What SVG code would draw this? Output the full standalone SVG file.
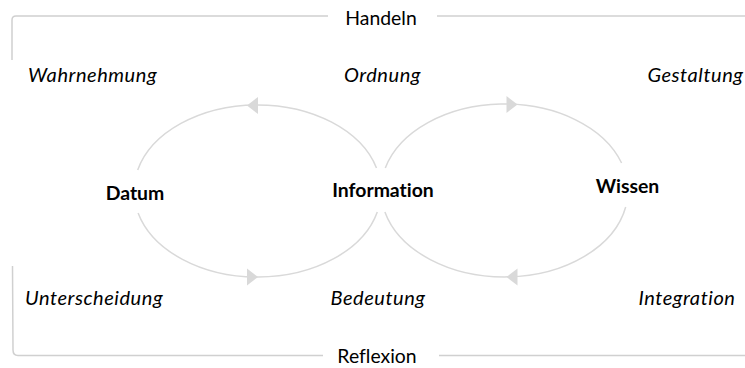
<svg xmlns="http://www.w3.org/2000/svg" width="745" height="368" viewBox="0 0 745 368">
<style>
  text { font-family: Lato, "Open Sans", "Liberation Sans", sans-serif; fill: #000; font-size: 19.4px; font-variant-ligatures: none; font-feature-settings: "liga" 0, "clig" 0; }
  .node { font-weight: bold; text-anchor: middle; }
  .lbl { font-style: italic; font-size: 20px; letter-spacing: 0.55px; }
  .mid { text-anchor: middle; }
  .arc { fill: none; stroke: #d9d9d9; stroke-width: 1.5; }
  .bracket { fill: none; stroke: #d0d0d0; stroke-width: 1.5; }
  .arrow { fill: #d9d9d9; stroke: none; }
</style>
<rect width="745" height="368" fill="#ffffff"/>

<g id="bracket-handeln">
  <path class="bracket" d="M328,16 L16,16 Q12,16 12,20 L12,60"/>
  <path class="bracket" d="M437,16 L745,16"/>
  <text class="mid" x="381" y="24.5">Handeln</text>
</g>
<g id="bracket-reflexion">
  <path class="bracket" d="M323,355.5 L18,355.5 Q13,355.5 13,350 L12.5,266"/>
  <path class="bracket" d="M439,355.5 L745,355.5"/>
  <text class="mid" x="377" y="362.5">Reflexion</text>
</g>

<g id="connectors">
  <path class="arc" d="M376.5,168 A123.5,86 0 0 0 137.7,170"/>
  <path class="arc" d="M138.1,213 A123.5,86 0 0 0 377.3,212"/>
  <path class="arc" d="M385.3,168 A123.5,86.5 0 0 1 621.6,163"/>
  <path class="arc" d="M625.7,207 A123.5,86.5 0 0 1 384.9,212"/>
  <polygon class="arrow" points="247,105.5 258,97 258,114"/>
  <polygon class="arrow" points="258,277 247,268.5 247,285.5"/>
  <polygon class="arrow" points="517.5,104.5 506.5,96 506.5,113"/>
  <polygon class="arrow" points="506.5,277 517.5,268.5 517.5,285.5"/>
</g>

<g id="node-datum"><text class="node" x="135" y="200">Datum</text></g>
<g id="node-information"><text class="node" x="383" y="197">Information</text></g>
<g id="node-wissen"><text class="node" x="627.5" y="193">Wissen</text></g>

<g id="label-wahrnehmung"><text class="lbl" x="28" y="82">Wahrnehmung</text></g>
<g id="label-ordnung"><text class="lbl mid" x="382.5" y="82">Ordnung</text></g>
<g id="label-gestaltung"><text class="lbl mid" x="695.5" y="82">Gestaltung</text></g>
<g id="label-unterscheidung"><text class="lbl" x="25" y="305">Unterscheidung</text></g>
<g id="label-bedeutung"><text class="lbl mid" x="378" y="305">Bedeutung</text></g>
<g id="label-integration"><text class="lbl mid" x="687" y="305">Integration</text></g>
</svg>
